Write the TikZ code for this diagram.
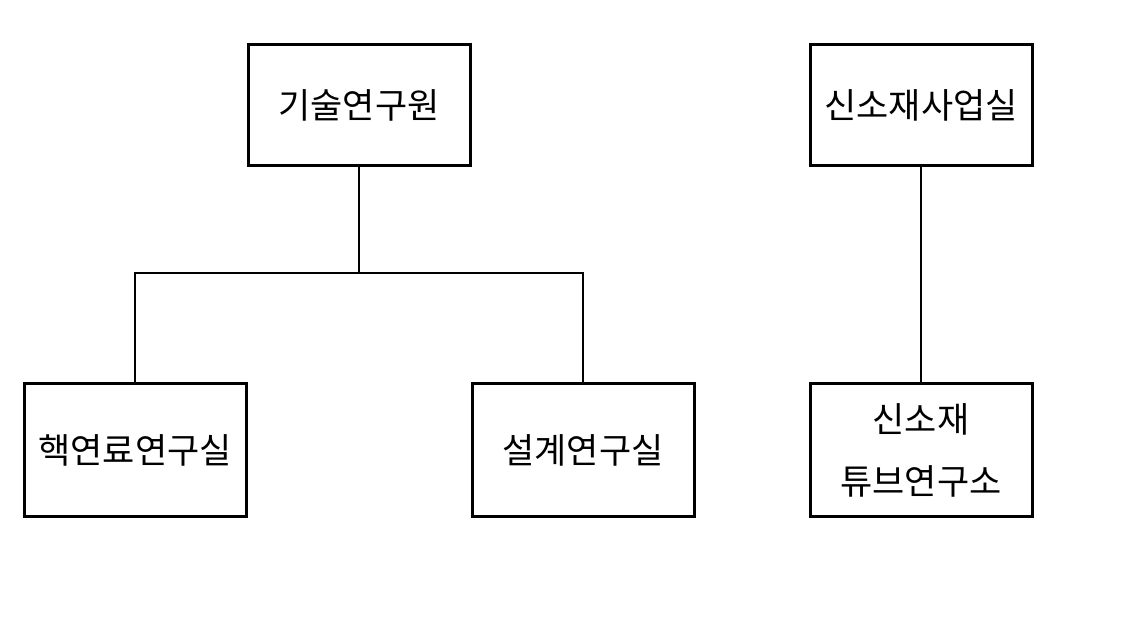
\documentclass[tikz,border=0pt]{standalone}
\usepackage{fontspec}
\newfontfamily\kr{Noto Sans CJK KR}
\begin{document}
\begin{tikzpicture}[x=1pt,y=-1pt,
	box/.style={draw, line width=3pt, minimum width=222pt, align=center, font=\kr\fontsize{35}{62}\selectfont},
	link/.style={line width=2.5pt}]
	\useasboundingbox (0,0) rectangle (1129,619);
	
	%TOP
	\node[box, minimum height=121pt] (tech) at (359,105) {기술연구원};
	\node[box, minimum height=121pt] (newmat) at (921,105) {신소재사업실};
	
	%BOTTOM
	\node[box, minimum height=133pt] (fuel) at (135,450) {핵연료연구실};
	\node[box, minimum height=133pt] (design) at (583,450) {설계연구실};
	\node[box, minimum height=133pt] (tube) at (921,450) {신소재\\튜브연구소};
	
	%LINKS
	\coordinate (split) at (359,273);
	\draw[link] (tech.south) -- (split);
	\draw[link] (fuel.north) |- (split) -| (design.north);
	\draw[link] (newmat.south) -- (tube.north);
\end{tikzpicture}
\end{document}
